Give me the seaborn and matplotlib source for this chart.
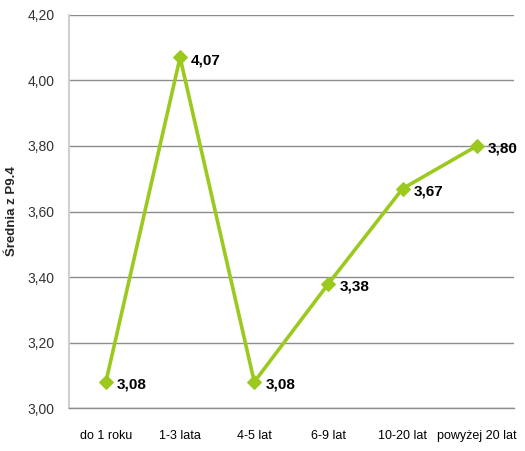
import matplotlib
matplotlib.use("Agg")
import matplotlib.pyplot as plt
import numpy as np
import pandas as pd
import seaborn as sns

categories = ["do 1 roku", "1-3 lata", "4-5 lat", "6-9 lat", "10-20 lat", "powyżej 20 lat"]
values = [3.08, 4.07, 3.08, 3.38, 3.67, 3.80]
y_ticks = [3.00, 3.20, 3.40, 3.60, 3.80, 4.00, 4.20]

df = pd.DataFrame({"kat": categories, "wartosc": values})

sns.set_style("white")
plt.rcParams["font.family"] = ["Liberation Sans", "DejaVu Sans"]

fig = plt.figure(figsize=(5.25, 4.51), dpi=100)
ax = fig.add_axes([0.131, 0.095, 0.848, 0.872])

green = "#9BC91E"
sns.lineplot(data=df, x="kat", y="wartosc", ax=ax, color=green, linewidth=2.6,
             marker="D", markersize=7.5, markeredgecolor=green, sort=False)

for i, v in enumerate(values):
    ax.annotate(f"{v:.2f}".replace(".", ","), (i, v), xytext=(8, -2),
                textcoords="offset points", ha="left", va="center",
                fontsize=11, fontweight="bold", color="black")

ax.set_ylim(3.0, 4.2)
ax.set_xlim(-0.5, 5.5)
ax.set_yticks(y_ticks)
ax.set_yticklabels([f"{t:.2f}".replace(".", ",") for t in y_ticks], fontsize=10, color="#333333")
ax.set_xticks(range(len(categories)))
ax.set_xticklabels(categories, fontsize=9, color="black")
ax.set_xticks(np.arange(-0.5, 6.0, 1.0), minor=True)
ax.tick_params(axis="x", which="major", length=0, pad=16)
ax.tick_params(axis="x", which="minor", length=5, color="#c8c8c8", width=1.2)
ax.tick_params(axis="y", length=4, color="#808080", pad=6)

ax.grid(axis="y", color="#8c8c8c", linewidth=1)
ax.set_axisbelow(True)
for s in ["top", "right"]:
    ax.spines[s].set_visible(False)
ax.spines["left"].set_color("#d0d0d0")
ax.spines["left"].set_linewidth(1.5)
ax.spines["bottom"].set_color("#8c8c8c")
ax.spines["bottom"].set_linewidth(1)

ax.set_xlabel("")
ax.set_ylabel("Średnia z P9.4", fontsize=9.5, fontweight="bold")
ax.yaxis.set_label_coords(-0.115, 0.5)

fig.savefig("out.png", dpi=100)
